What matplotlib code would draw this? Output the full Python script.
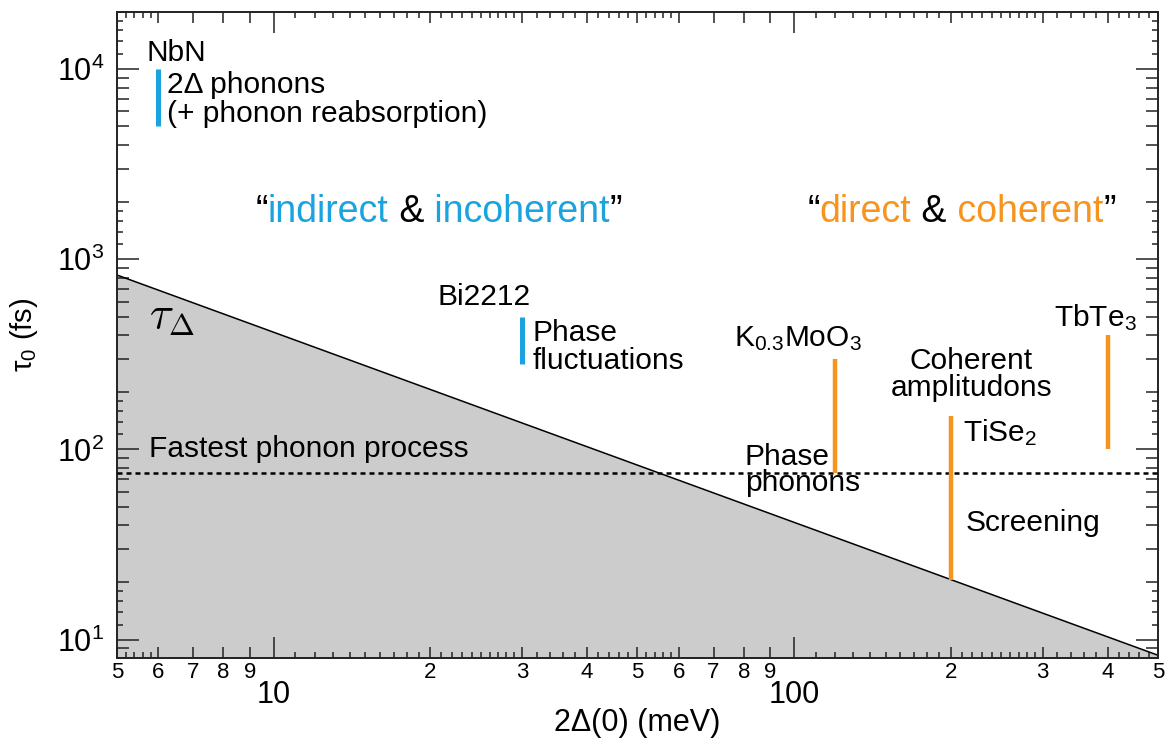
import numpy as np
import matplotlib
matplotlib.use('Agg')
import matplotlib.pyplot as plt
from matplotlib.ticker import FixedLocator, FuncFormatter

plt.rcParams['font.family'] = ['Liberation Sans', 'DejaVu Sans']
plt.rcParams['mathtext.fontset'] = 'custom'
plt.rcParams['mathtext.rm'] = 'Liberation Sans'
plt.rcParams['mathtext.it'] = 'Liberation Sans:italic'
plt.rcParams['mathtext.bf'] = 'Liberation Sans:bold'

BLUE = '#1BA3E0'
ORANGE = '#F7941E'

# tau_Delta = h / 2Delta, straight line on log-log between the axis ends
tau_x = [5, 500]
tau_y = [827, 8.27]
fastest_phonon = 75

# material bars: (x, y_low, y_high)
nbn = (6, 5000, 10000)
bi2212 = (30, 280, 500)
k03moo3 = (120, 75, 300)
tise2 = (200, 20.7, 150)
tbte3 = (400, 100, 400)

fig = plt.figure(figsize=(11.65, 7.43), dpi=100)
ax = fig.add_axes([117 / 1165, (743 - 658) / 743, 1041 / 1165, 646 / 743])
ax.set_xscale('log')
ax.set_yscale('log')
ax.set_xlim(5, 500)
ax.set_ylim(8, 2e4)

ax.fill_between(tau_x, tau_y, 1, color='#cccccc', lw=0, zorder=1)
ax.plot(tau_x, tau_y, color='black', lw=1.1, zorder=2)
ax.axhline(fastest_phonon, color='black', lw=1.8, ls=(0, (2.0, 1.6)), zorder=3)

for x, lo, hi in [nbn, bi2212]:
    ax.plot([x, x], [lo, hi], color=BLUE, lw=3.6, solid_capstyle='butt', zorder=4)
for x, lo, hi in [k03moo3, tise2, tbte3]:
    ax.plot([x, x], [lo, hi], color=ORANGE, lw=3.2, solid_capstyle='butt', zorder=4)

fs = 21.5
ax.text(5.7, 12100, 'NbN', fontsize=fs, va='center', ha='left')
ax.text(6.24, 6900, '2Δ phonons\n(+ phonon reabsorption)', fontsize=fs,
        va='center', ha='left', linespacing=1.05)
ax.text(20.6, 631, 'Bi2212', fontsize=fs, va='center', ha='left')
ax.text(31.4, 344, 'Phase\nfluctuations', fontsize=fs, va='center', ha='left',
        linespacing=1.0)
ax.text(76.5, 385, r'K$_{0.3}$MoO$_{3}$', fontsize=fs, va='center', ha='left')
ax.text(219, 248, 'Coherent\namplitudons', fontsize=fs, va='center', ha='center',
        linespacing=0.95)
ax.text(211, 123, r'TiSe$_{2}$', fontsize=fs, va='center', ha='left')
ax.text(315, 494, r'TbTe$_{3}$', fontsize=fs, va='center', ha='left')
ax.text(80.4, 78, 'Phase\nphonons', fontsize=fs, va='center', ha='left',
        linespacing=0.9)
ax.text(213, 41, 'Screening', fontsize=fs, va='center', ha='left')
ax.text(5.77, 101, 'Fastest phonon process', fontsize=fs, va='center', ha='left')
ax.text(5.77, 494, r'$\tau_\Delta$', fontsize=32, va='center', ha='left',
        math_fontfamily='cm')


def colored_text(x, y, parts, size):
    t = ax.text(x, y, parts[0][0], color=parts[0][1], fontsize=size,
                va='center', ha='left')
    for s, c in parts[1:]:
        t = ax.annotate(s, xy=(1, 0), xycoords=t, va='bottom', ha='left',
                        color=c, fontsize=size)


colored_text(9.22, 1771, [('“', 'black'), ('indirect', BLUE), (' &', 'black'),
                          (' incoherent', BLUE), ('”', 'black')], 27)
colored_text(106, 1771, [('“', 'black'), ('direct', ORANGE), (' &', 'black'),
                         (' coherent', ORANGE), ('”', 'black')], 27)

# ticks
x_major = [10, 100]
x_minor = []
for d in [1, 10, 100]:
    for m in range(2, 10):
        x_minor.append(m * d)
x_sub = []
for d in [1, 10, 100]:
    fr = [1 + 0.1 * i for i in range(1, 10)] + [2 + 0.1 * i for i in range(1, 10)] \
        + [3.2, 3.4, 3.6, 3.8, 4.2, 4.4, 4.6, 4.8, 5.2, 5.4, 5.6, 5.8]
    x_sub += [f * d for f in fr]
x_minor_all = [v for v in x_minor + x_sub if 5 <= v <= 500]

ax.xaxis.set_major_locator(FixedLocator(x_major))
ax.xaxis.set_minor_locator(FixedLocator(sorted(x_minor_all)))
ax.xaxis.set_major_formatter(FuncFormatter(lambda v, p: '%d' % v))


def minor_lab(v, p):
    d = 10 ** np.floor(np.log10(v) + 1e-9)
    m = v / d
    if abs(m - round(m)) < 1e-6:
        return '%d' % round(m)
    return ''


ax.xaxis.set_minor_formatter(FuncFormatter(minor_lab))

y_major = [10, 100, 1000, 10000]
y_minor = []
for d in [1, 10, 100, 1000, 10000]:
    for f in [1.2, 1.4, 1.6, 1.8, 2, 3, 4, 5, 6, 7, 8, 9]:
        v = f * d
        if 8 <= v <= 2e4:
            y_minor.append(v)
ax.yaxis.set_major_locator(FixedLocator(y_major))
ax.yaxis.set_minor_locator(FixedLocator(y_minor))
ax.yaxis.set_major_formatter(FuncFormatter(lambda v, p: r'$\mathregular{10^{%d}}$' % round(np.log10(v))))
ax.yaxis.set_minor_formatter(FuncFormatter(lambda v, p: ''))

ax.tick_params(which='both', direction='in', top=True, right=True, width=1.1,
               color='#222222')
ax.tick_params(axis='x', which='major', length=15, labelsize=22, pad=16)
ax.tick_params(axis='x', which='minor', length=8, labelsize=16, pad=3)
ax.tick_params(axis='y', which='major', length=16, labelsize=22, pad=9)
ax.tick_params(axis='y', which='minor', length=8.5)

for axis in [ax.xaxis, ax.yaxis]:
    locs = axis.get_minorticklocs()
    ticks = axis.get_minor_ticks(len(locs))
    for t, v in zip(ticks, locs):
        d = 10 ** np.floor(np.log10(v) + 1e-9)
        m = v / d
        if abs(m - round(m)) > 1e-6:
            t.tick1line.set_markersize(4.5)
            t.tick2line.set_markersize(4.5)

for sp in ax.spines.values():
    sp.set_linewidth(1.4)
    sp.set_color('#222222')

ax.set_xlabel('2Δ(0) (meV)', fontsize=22)
ax.xaxis.set_label_coords(0.5, -0.078)
ax.set_ylabel(r'τ$_{0}$ (fs)', fontsize=21, labelpad=12)

fig.savefig('out.png', dpi=100)
